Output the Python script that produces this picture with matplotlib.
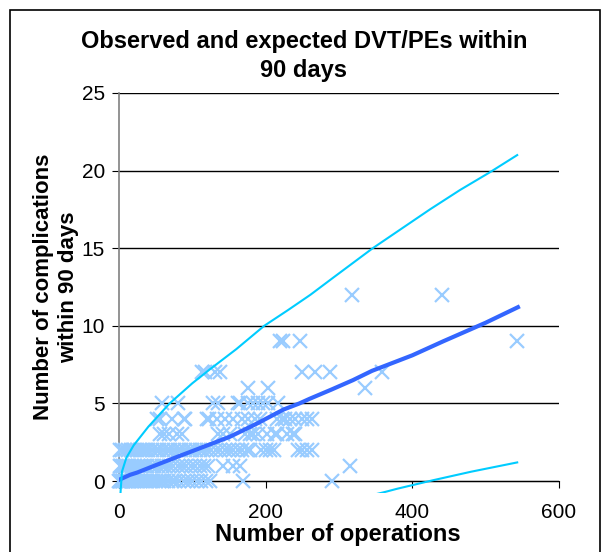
import matplotlib
matplotlib.use("Agg")
import matplotlib.pyplot as plt
from matplotlib.patches import Rectangle

plt.rcParams["font.family"] = ["Liberation Sans", "DejaVu Sans"]

# observed complications per surgeon (number of operations, number of DVT/PEs)
obs_ops = [
    # 0 events
    0, 1, 2, 3, 4, 5, 6, 8, 10, 12, 14, 16, 18, 20, 23, 26, 29, 32, 35, 38, 42, 46,
    50, 54, 58, 62, 67, 72, 77, 82, 88, 94, 100, 106, 112, 118, 124, 169, 290,
    # 1 event
    1, 3, 5, 8, 11, 14, 18, 22, 26, 30, 34, 38, 43, 48, 53, 58, 63, 68, 74, 80, 86,
    92, 98, 104, 110, 116, 122, 142, 156, 165, 315,
    # 2 events
    1, 4, 8, 12, 16, 20, 24, 28, 32, 36, 40, 45, 50, 55, 60, 65, 70, 75, 80, 85, 90,
    95, 100, 105, 110, 115, 120, 126, 132, 138, 144, 150, 156, 162, 168, 174, 179,
    194, 200, 206, 212, 244, 250, 256, 263,
    # 3 events
    56, 62, 68, 79, 86, 135, 142, 151, 172, 179, 183, 190, 202, 213, 216, 229, 237, 240,
    # 4 events
    52, 56, 72, 88, 90, 120, 123, 134, 145, 155, 168, 176, 186, 192, 216, 222, 226,
    233, 240, 250, 256, 263,
    # 5 events
    59, 80, 128, 135, 162, 165, 176, 183, 190, 196, 203, 217,
    # 6 events
    176, 203, 336,
    # 7 events
    113, 117, 131, 138, 250, 267, 288, 359,
    # 9 events
    220, 224, 247, 543,
    # 12 events
    318, 441,
]
obs_counts = [0] * 39 + [1] * 31 + [2] * 45 + [3] * 18 + [4] * 22 + [5] * 12 \
    + [6] * 3 + [7] * 8 + [9] * 4 + [12] * 2

# expected number of complications
exp_ops = [1, 15, 25, 49, 68, 79, 115, 151, 188, 224, 246, 260, 290, 319, 345, 400, 442, 500, 544]
exp_val = [0.1, 0.4, 0.55, 1.0, 1.35, 1.55, 2.2, 2.85, 3.7, 4.6, 5.0, 5.3, 5.9, 6.5, 7.1, 8.1, 9.0, 10.2, 11.2]

# upper and lower control limits
upper_ops = [2, 4, 10, 20, 40, 69, 100, 124, 160, 198, 230, 261, 292, 346, 424, 465, 506, 543]
upper_val = [-0.8, 0.6, 1.5, 2.3, 3.5, 5.0, 6.3, 7.2, 8.5, 10.0, 11.0, 12.0, 13.1, 15.0, 17.5, 18.75, 19.9, 21.0]
lower_ops = [350, 363, 379, 428, 480, 543]
lower_val = [-0.85, -0.7, -0.5, 0.05, 0.6, 1.2]

W, H = 605, 552
fig = plt.figure(figsize=(W / 100, H / 100), dpi=100)
ax = fig.add_axes([119 / W, 1 - 493 / H, 440 / W, 400 / H])

ax.plot(obs_ops, obs_counts, linestyle="none", marker="x", markersize=10,
        markeredgewidth=1.6, color="#99ccff", clip_on=False, zorder=3)
ax.plot(exp_ops, exp_val, color="#3366ff", linewidth=3, zorder=4)
ax.plot(upper_ops, upper_val, color="#00ccff", linewidth=1.5, zorder=4)
ax.plot(lower_ops, lower_val, color="#00ccff", linewidth=1.5, zorder=4)

ax.set_xlim(0, 600)
ax.set_ylim(-0.77, 25)
ax.set_xticks([0, 200, 400, 600])
ax.set_yticks([0, 5, 10, 15, 20, 25])
ax.yaxis.grid(True, color="black", linewidth=1)
ax.set_axisbelow(True)

for s in ["top", "right"]:
    ax.spines[s].set_visible(False)
ax.spines["left"].set_bounds(0, 25)
ax.spines["left"].set_color("#808080")
ax.spines["left"].set_linewidth(1.2)
ax.spines["bottom"].set_position(("data", 0))
ax.spines["bottom"].set_color("black")
ax.tick_params(axis="x", direction="out", length=5, pad=11, labelsize=15)
ax.tick_params(axis="y", direction="out", length=5, pad=5, labelsize=15)

fig.text(304 / W, 1 - 56 / H, "Observed and expected DVT/PEs within\n90 days",
         ha="center", va="center", fontsize=17, fontweight="bold", linespacing=1.35)
fig.text(56 / W, 1 - 287 / H, "Number of complications\nwithin 90 days",
         ha="center", va="center", rotation=90, fontsize=16, fontweight="bold",
         linespacing=1.2)
fig.text(338 / W, 1 - 534 / H, "Number of operations", ha="center", va="center",
         fontsize=17, fontweight="bold")

fig.patches.append(Rectangle((10 / W, -0.02), 590 / W, 1 - 10 / H + 0.02,
                             transform=fig.transFigure, fill=False,
                             edgecolor="black", linewidth=1.2))

fig.savefig("out.png", dpi=100)
